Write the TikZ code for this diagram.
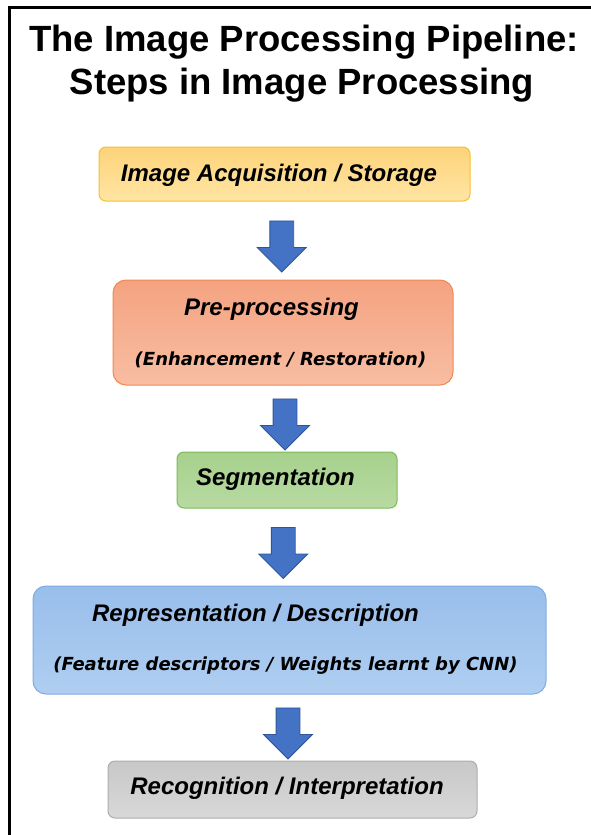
\documentclass[tikz,border=0pt]{standalone}
\usepackage{fontspec}
\setmainfont{Liberation Sans}
\newfontfamily\verdfont{DejaVu Sans}
\usetikzlibrary{shapes.arrows,calc}
\definecolor{acqtop}{HTML}{FDD37A}
\definecolor{acqbot}{HTML}{FFE5A3}
\definecolor{acqedge}{HTML}{F5C033}
\definecolor{pretop}{HTML}{F4A381}
\definecolor{prebot}{HTML}{F8BDA2}
\definecolor{preedge}{HTML}{F3874F}
\definecolor{segtop}{HTML}{A6D18C}
\definecolor{segbot}{HTML}{B7DAA2}
\definecolor{segedge}{HTML}{7DBB55}
\definecolor{reptop}{HTML}{98BEEB}
\definecolor{repbot}{HTML}{AFCEF1}
\definecolor{repedge}{HTML}{7FABE3}
\definecolor{rectop}{HTML}{C8C8C8}
\definecolor{recbot}{HTML}{D8D8D8}
\definecolor{recedge}{HTML}{ADADAD}
\definecolor{arrowblue}{HTML}{4472C4}
\definecolor{arrowedge}{HTML}{2F5597}
\tikzset{
  % boxes
  stage/.style={line width=1pt,inner sep=0pt},
  acqbox/.style={stage,rounded corners=7pt,draw=acqedge,top color=acqtop,bottom color=acqbot,
                 minimum width=371pt,minimum height=54pt},
  prebox/.style={stage,rounded corners=13pt,draw=preedge,top color=pretop,bottom color=prebot,
                 minimum width=340pt,minimum height=105pt},
  segbox/.style={stage,rounded corners=7pt,draw=segedge,top color=segtop,bottom color=segbot,
                 minimum width=220pt,minimum height=56pt},
  repbox/.style={stage,rounded corners=13pt,draw=repedge,top color=reptop,bottom color=repbot,
                 minimum width=513pt,minimum height=108pt},
  recbox/.style={stage,rounded corners=7pt,draw=recedge,top color=rectop,bottom color=recbot,
                 minimum width=369pt,minimum height=57pt},
  % texte
  ttl/.style={anchor=base,inner sep=0pt,font=\fontsize{36.5}{40}\selectfont\bfseries},
  lbl/.style={anchor=base,inner sep=0pt,font=\fontsize{24}{28}\selectfont\bfseries\itshape},
  sublbl/.style={anchor=base,inner sep=0pt,font=\verdfont\fontsize{18}{22}\selectfont\bfseries\itshape},
  % pfeile
  down/.style={single arrow,rotate=-90,draw=arrowedge,fill=arrowblue,line width=0.8pt,
               inner xsep=0pt,inner ysep=11.5pt,minimum height=51pt,
               single arrow head extend=12.5pt,single arrow tip angle=90},
}
\begin{document}
\begin{tikzpicture}[x=1pt,y=-1pt]
\useasboundingbox (0,0) rectangle (591,835);
  \draw[line width=3pt] (9,835) -- (9,7.5) -- (591,7.5);
  \node[ttl] (title1) at (304,51) {The Image Processing Pipeline:};
  \node[ttl] (title2) at (302,94) {Steps in Image Processing};
  \node[acqbox] (acq) at (284.5,174) {};
  \node[prebox] (pre) at (283,332.5) {};
  \node[segbox] (seg) at (287,480) {};
  \node[repbox] (rep) at (289.5,640) {};
  \node[recbox] (rec) at (292.5,789.5) {};
  \node[lbl] (acqtxt) at (279,181) {Image Acquisition / Storage};
  \node[lbl] (pretxt) at (271.5,315) {Pre-processing};
  \node[sublbl] (presub) at (280.5,365) {(Enhancement / Restoration)};
  \node[lbl] (segtxt) at (275.5,485) {Segmentation};
  \node[lbl] (reptxt) at (255.5,621) {Representation / Description};
  \node[sublbl] (repsub) at (285.5,670) {(Feature descriptors / Weights learnt by CNN)};
  \node[lbl] (rectxt) at (287,794) {Recognition / Interpretation};
  \node[down] (a1) at ([xshift=-2pt]$(acq.south)!0.5!(pre.north)$) {};
  \node[down] (a2) at ($(pre.south)!0.5!(seg.north)$) {};
  \node[down] (a3) at ([xshift=-5pt]$(seg.south)!0.5!(rep.north)$) {};
  \node[down] (a4) at ([xshift=-3pt]$(rep.south)!0.5!(rec.north)$) {};
\end{tikzpicture}
\end{document}
